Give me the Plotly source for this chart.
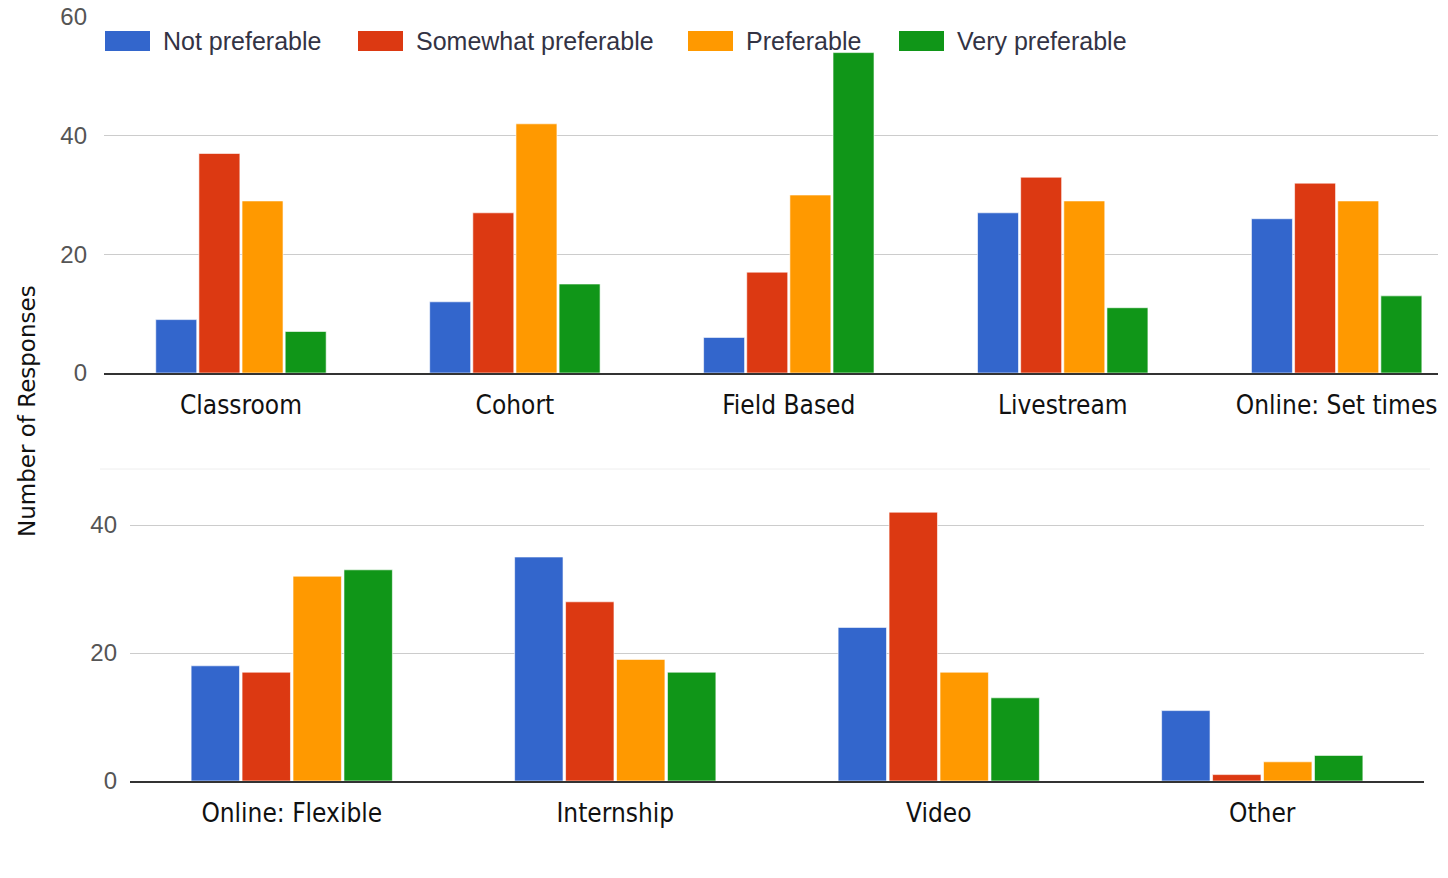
import plotly.graph_objects as go

# Survey results: preference for each course delivery format
series = ["Not preferable", "Somewhat preferable", "Preferable", "Very preferable"]
colors = ["#3366CC", "#DC3912", "#FF9900", "#109618"]

top_formats = ["Classroom", "Cohort", "Field Based", "Livestream", "Online: Set times"]
top_not = [9, 12, 6, 27, 26]
top_somewhat = [37, 27, 17, 33, 32]
top_pref = [29, 42, 30, 29, 29]
top_very = [7, 15, 54, 11, 13]

bottom_formats = ["Online: Flexible", "Internship", "Video", "Other"]
bottom_not = [18, 35, 24, 11]
bottom_somewhat = [17, 28, 42, 1]
bottom_pref = [32, 19, 17, 3]
bottom_very = [33, 17, 13, 4]

top_ticks = [0, 20, 40, 60]
bottom_ticks = [0, 20, 40]

W, H = 1448, 878

def px_x(p):
    return p / W

def px_y(p):
    return 1 - p / H

fig = go.Figure()

top_values = [top_not, top_somewhat, top_pref, top_very]
bottom_values = [bottom_not, bottom_somewhat, bottom_pref, bottom_very]

for name, color, vals in zip(series, colors, top_values):
    fig.add_trace(go.Bar(
        x=list(range(len(top_formats))), y=vals, name=name,
        marker=dict(color=color, line=dict(color="rgba(255,255,255,0.6)", width=1)),
        xaxis="x", yaxis="y", showlegend=False,
    ))

for name, color, vals in zip(series, colors, bottom_values):
    fig.add_trace(go.Bar(
        x=list(range(len(bottom_formats))), y=vals, name=name,
        marker=dict(color=color, line=dict(color="rgba(255,255,255,0.6)", width=1)),
        xaxis="x2", yaxis="y2", showlegend=False,
    ))

tick_font = dict(family="Liberation Sans, Arial", size=24, color="#555555")
cat_font = dict(family="DejaVu Sans Condensed, DejaVu Sans", size=26, color="#111111")

common_x = dict(
    showgrid=False, zeroline=False, showline=True, linecolor="#333333", linewidth=2,
    ticks="outside", ticklen=0, tickfont=cat_font, ticklabelstandoff=8,
    automargin=False, fixedrange=True,
)
common_y = dict(
    showgrid=True, gridcolor="#cccccc", gridwidth=1, zeroline=False, showline=False,
    tickfont=tick_font, tickmode="array", ticks="", automargin=False, fixedrange=True,
)

fig.update_layout(
    width=W, height=H,
    margin=dict(l=0, r=0, t=0, b=0),
    paper_bgcolor="white", plot_bgcolor="white",
    barmode="group", bargap=0.37, bargroupgap=0.05,
    xaxis=dict(
        domain=[px_x(104), px_x(1438)], range=[-0.5, 4.37],
        tickmode="array", tickvals=list(range(len(top_formats))), ticktext=top_formats,
        anchor="y", **common_x,
    ),
    yaxis=dict(
        domain=[px_y(373), px_y(17)], range=[0, 60],
        tickvals=top_ticks, ticklabelstandoff=16, anchor="x", **common_y,
    ),
    xaxis2=dict(
        domain=[px_x(130), px_x(1424)], range=[-0.5, 3.5],
        tickmode="array", tickvals=list(range(len(bottom_formats))), ticktext=bottom_formats,
        anchor="y2", **common_x,
    ),
    yaxis2=dict(
        domain=[px_y(781), px_y(469)], range=[0, 48.75],
        tickvals=bottom_ticks, ticklabelstandoff=12, anchor="x2", **common_y,
    ),
)

# Faint border along the top of the lower chart
fig.add_shape(type="line", xref="paper", yref="paper",
              x0=px_x(100), x1=px_x(1430), y0=px_y(469), y1=px_y(469),
              line=dict(color="#eeeeee", width=1))

# Legend drawn as wide colour swatches with labels
legend_x = [105, 358, 688, 899]
for name, color, lx in zip(series, colors, legend_x):
    fig.add_shape(type="rect", xref="paper", yref="paper",
                  x0=px_x(lx), x1=px_x(lx + 45), y0=px_y(51), y1=px_y(31),
                  fillcolor=color, line=dict(width=0))
    fig.add_annotation(text=name, xref="paper", yref="paper",
                       x=px_x(lx + 56), y=px_y(41), xanchor="left", yanchor="middle",
                       showarrow=False,
                       font=dict(family="Liberation Sans, Arial", size=25, color="#333344"))

# Shared y-axis title
fig.add_annotation(text="Number of Responses", xref="paper", yref="paper",
                   x=px_x(27), y=px_y(411), textangle=-90, showarrow=False,
                   xanchor="center", yanchor="middle",
                   font=dict(family="DejaVu Sans", size=23, color="#111111"))

fig.write_html("out.html")
